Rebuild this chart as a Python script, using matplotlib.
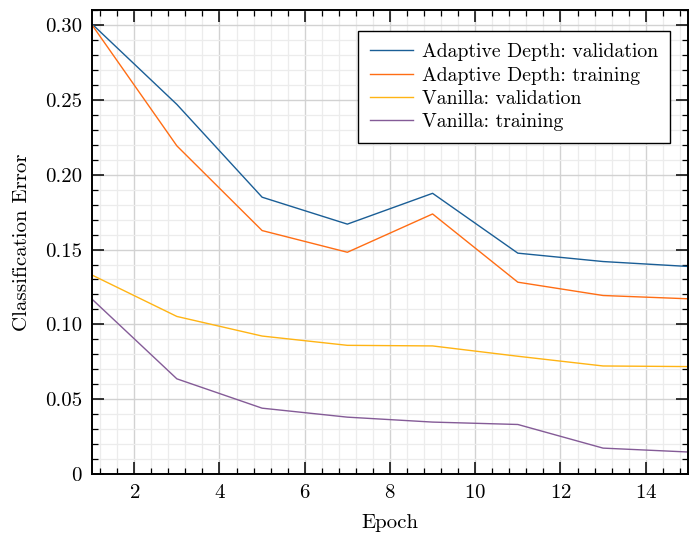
import numpy as np
import matplotlib
matplotlib.use("Agg")
import matplotlib.pyplot as plt
from matplotlib.ticker import MultipleLocator, FuncFormatter

epochs = [1, 3, 5, 7, 9, 11, 13, 15]
ad_val = [0.301, 0.247, 0.185, 0.167, 0.1876, 0.1476, 0.142, 0.1387]
ad_train = [0.3005, 0.2193, 0.1627, 0.1482, 0.1738, 0.1282, 0.1193, 0.1171]
van_val = [0.1331, 0.1053, 0.0922, 0.086, 0.0856, 0.0787, 0.0722, 0.0718]
van_train = [0.1171, 0.0636, 0.044, 0.038, 0.0347, 0.0331, 0.0173, 0.0147]

labels = ["Adaptive Depth: validation", "Adaptive Depth: training",
          "Vanilla: validation", "Vanilla: training"]
colors = ["#1a5e96", "#ff6d14", "#ffb414", "#845b97"]

plt.rcParams["font.family"] = "serif"
plt.rcParams["font.serif"] = ["cmr10"]
plt.rcParams["mathtext.fontset"] = "cm"
plt.rcParams["axes.formatter.use_mathtext"] = True
plt.rcParams.update({'font.size': 15})

fig = plt.figure(figsize=(6.89, 5.35), dpi=100)
ax = fig.add_axes([0.133, 0.114, 0.866, 0.867])

for ys, lab, c in zip([ad_val, ad_train, van_val, van_train], labels, colors):
  ax.plot(epochs, ys, label=lab, c=c, linewidth=1.0)

ax.set_xlim(1, 15)
ax.set_ylim(0, 0.31)
ax.xaxis.set_major_locator(MultipleLocator(2))
ax.xaxis.set_minor_locator(MultipleLocator(0.4))
ax.yaxis.set_major_locator(MultipleLocator(0.05))
ax.yaxis.set_minor_locator(MultipleLocator(0.01))
ax.yaxis.set_major_formatter(FuncFormatter(lambda v, p: "0" if abs(v) < 1e-9 else f"{v:.2f}"))

ax.grid(which="major", color="#d2d2d2", linewidth=1.0)
ax.grid(which="minor", color="#ececec", linewidth=0.9)
ax.set_axisbelow(True)

ax.tick_params(which="both", direction="in", top=True, right=True)
ax.tick_params(which="major", length=8.5, width=1.1, pad=7)
ax.tick_params(which="minor", length=4.3, width=0.9)
for s in ax.spines.values():
  s.set_linewidth(1.4)

ax.set_xlabel("Epoch", labelpad=9)
ax.set_ylabel("Classification Error", labelpad=10)

leg = ax.legend(loc="upper right", bbox_to_anchor=(0.97, 0.955), borderaxespad=0,
                fancybox=False, fontsize=14.2, edgecolor="black", framealpha=1,
                handlelength=2.2, borderpad=0.62, labelspacing=0.27, handletextpad=0.45)
leg.get_frame().set_linewidth(1.0)

plt.savefig("out.png", dpi=100)
